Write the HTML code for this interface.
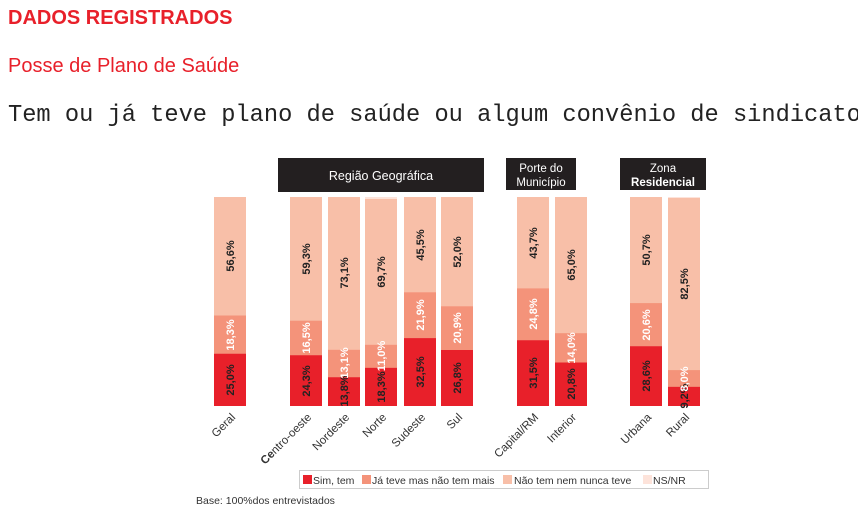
<!DOCTYPE html>
<html><head><meta charset="utf-8"><style>
body{margin:0;background:#fff;width:858px;height:508px;overflow:hidden}
</style></head><body>
<svg width="858" height="508" xmlns="http://www.w3.org/2000/svg" font-family="Liberation Sans, sans-serif">
<text x="8" y="24" font-size="20" font-weight="bold" fill="#e8202a">DADOS REGISTRADOS</text>
<text x="8" y="72" font-size="20" fill="#e8202a">Posse de Plano de Saúde</text>
<text x="8" y="121" font-size="23.7" font-family="Liberation Mono, monospace" fill="#222">Tem ou já teve plano de saúde ou algum convênio de sindicato</text>

<rect x="278" y="158" width="206" height="34" fill="#231f20"/>
<text x="381" y="180" font-size="12.5" fill="#fff" text-anchor="middle">Região Geográfica</text>
<rect x="506" y="158" width="70" height="32" fill="#231f20"/>
<text x="541" y="172" font-size="11.5" fill="#fff" text-anchor="middle">Porte do</text>
<text x="541" y="186" font-size="11.5" fill="#fff" text-anchor="middle">Município</text>
<rect x="620" y="158" width="86" height="32" fill="#231f20"/>
<text x="663" y="172" font-size="11.5" fill="#fff" text-anchor="middle">Zona</text>
<text x="663" y="186" font-size="11.5" font-weight="bold" fill="#fff" text-anchor="middle">Residencial</text>

<g font-size="11" font-weight="bold">
<rect x="214" y="197" width="32" height="209" fill="#f8bfa8"/>
<rect x="214" y="315.5" width="32" height="38.2" fill="#f4937a"/>
<rect x="214" y="353.7" width="32" height="52.3" fill="#e8202a"/>
<text transform="translate(234,380) rotate(-90)" text-anchor="middle" fill="#222">25,0%</text>
<text transform="translate(234,335) rotate(-90)" text-anchor="middle" fill="#fff">18,3%</text>
<text transform="translate(234,256) rotate(-90)" text-anchor="middle" fill="#222">56,6%</text>
<rect x="290" y="197" width="32" height="209" fill="#f8bfa8"/>
<rect x="290" y="320.7" width="32" height="34.5" fill="#f4937a"/>
<rect x="290" y="355.2" width="32" height="50.8" fill="#e8202a"/>
<text transform="translate(310,381) rotate(-90)" text-anchor="middle" fill="#222">24,3%</text>
<text transform="translate(310,338) rotate(-90)" text-anchor="middle" fill="#fff">16,5%</text>
<text transform="translate(310,259) rotate(-90)" text-anchor="middle" fill="#222">59,3%</text>
<rect x="328" y="197" width="32" height="209" fill="#f8bfa8"/>
<rect x="328" y="349.8" width="32" height="27.4" fill="#f4937a"/>
<rect x="328" y="377.2" width="32" height="28.8" fill="#e8202a"/>
<text transform="translate(348,391) rotate(-90)" text-anchor="middle" fill="#222">13,8%</text>
<text transform="translate(348,363) rotate(-90)" text-anchor="middle" fill="#fff">13,1%</text>
<text transform="translate(348,273) rotate(-90)" text-anchor="middle" fill="#222">73,1%</text>
<rect x="365" y="197" width="32" height="209" fill="#fde3da"/>
<rect x="365" y="199" width="32" height="207" fill="#f8bfa8"/>
<rect x="365" y="344.8" width="32" height="23" fill="#f4937a"/>
<rect x="365" y="367.8" width="32" height="38.2" fill="#e8202a"/>
<text transform="translate(385,387) rotate(-90)" text-anchor="middle" fill="#222">18,3%</text>
<text transform="translate(385,356) rotate(-90)" text-anchor="middle" fill="#fff">11,0%</text>
<text transform="translate(385,272) rotate(-90)" text-anchor="middle" fill="#222">69,7%</text>
<rect x="404" y="197" width="32" height="209" fill="#f8bfa8"/>
<rect x="404" y="292.3" width="32" height="45.8" fill="#f4937a"/>
<rect x="404" y="338.1" width="32" height="67.9" fill="#e8202a"/>
<text transform="translate(424,372) rotate(-90)" text-anchor="middle" fill="#222">32,5%</text>
<text transform="translate(424,315) rotate(-90)" text-anchor="middle" fill="#fff">21,9%</text>
<text transform="translate(424,245) rotate(-90)" text-anchor="middle" fill="#222">45,5%</text>
<rect x="441" y="197" width="32" height="209" fill="#f8bfa8"/>
<rect x="441" y="306.3" width="32" height="43.7" fill="#f4937a"/>
<rect x="441" y="350" width="32" height="56" fill="#e8202a"/>
<text transform="translate(461,378) rotate(-90)" text-anchor="middle" fill="#222">26,8%</text>
<text transform="translate(461,328) rotate(-90)" text-anchor="middle" fill="#fff">20,9%</text>
<text transform="translate(461,252) rotate(-90)" text-anchor="middle" fill="#222">52,0%</text>
<rect x="517" y="197" width="32" height="209" fill="#f8bfa8"/>
<rect x="517" y="288.4" width="32" height="51.8" fill="#f4937a"/>
<rect x="517" y="340.2" width="32" height="65.8" fill="#e8202a"/>
<text transform="translate(537,373) rotate(-90)" text-anchor="middle" fill="#222">31,5%</text>
<text transform="translate(537,314) rotate(-90)" text-anchor="middle" fill="#fff">24,8%</text>
<text transform="translate(537,243) rotate(-90)" text-anchor="middle" fill="#222">43,7%</text>
<rect x="555" y="197" width="32" height="209" fill="#f8bfa8"/>
<rect x="555" y="333.2" width="32" height="29.3" fill="#f4937a"/>
<rect x="555" y="362.5" width="32" height="43.5" fill="#e8202a"/>
<text transform="translate(575,384) rotate(-90)" text-anchor="middle" fill="#222">20,8%</text>
<text transform="translate(575,348) rotate(-90)" text-anchor="middle" fill="#fff">14,0%</text>
<text transform="translate(575,265) rotate(-90)" text-anchor="middle" fill="#222">65,0%</text>
<rect x="630" y="197" width="32" height="209" fill="#f8bfa8"/>
<rect x="630" y="303.1" width="32" height="43.1" fill="#f4937a"/>
<rect x="630" y="346.2" width="32" height="59.8" fill="#e8202a"/>
<text transform="translate(650,376) rotate(-90)" text-anchor="middle" fill="#222">28,6%</text>
<text transform="translate(650,325) rotate(-90)" text-anchor="middle" fill="#fff">20,6%</text>
<text transform="translate(650,250) rotate(-90)" text-anchor="middle" fill="#222">50,7%</text>
<rect x="668" y="197" width="32" height="209" fill="#fde3da"/>
<rect x="668" y="198" width="32" height="208" fill="#f8bfa8"/>
<rect x="668" y="370.1" width="32" height="16.7" fill="#f4937a"/>
<rect x="668" y="386.8" width="32" height="19.2" fill="#e8202a"/>
<text transform="translate(688,396) rotate(-90)" text-anchor="middle" fill="#222">9,2%</text>
<text transform="translate(688,379) rotate(-90)" text-anchor="middle" fill="#fff">8,0%</text>
<text transform="translate(688,284) rotate(-90)" text-anchor="middle" fill="#222">82,5%</text>
</g>

<g font-size="11.5" fill="#333" text-anchor="end">
<text transform="translate(236,418) rotate(-45)">Geral</text>
<text transform="translate(312,418) rotate(-45)"><tspan font-weight="bold">Ce</tspan>ntro-oeste</text>
<text transform="translate(350,418) rotate(-45)">Nordeste</text>
<text transform="translate(387,418) rotate(-45)">Norte</text>
<text transform="translate(426,418) rotate(-45)">Sudeste</text>
<text transform="translate(463,418) rotate(-45)">Sul</text>
<text transform="translate(539,418) rotate(-45)">Capital/RM</text>
<text transform="translate(577,418) rotate(-45)">Interior</text>
<text transform="translate(652,418) rotate(-45)">Urbana</text>
<text transform="translate(690,418) rotate(-45)">Rural</text>
</g>

<rect x="299.5" y="470.5" width="409" height="18" fill="#fff" stroke="#ccc"/>
<g font-size="10.5" fill="#333">
<rect x="303" y="475" width="9" height="9" fill="#e8202a"/><text x="313" y="484">Sim, tem</text>
<rect x="362" y="475" width="9" height="9" fill="#f4937a"/><text x="372" y="484">Já teve mas não tem mais</text>
<rect x="503" y="475" width="9" height="9" fill="#f8bfa8"/><text x="514" y="484">Não tem nem nunca teve</text>
<rect x="643" y="475" width="9" height="9" fill="#fde3da"/><text x="653" y="484">NS/NR</text>
</g>
<text x="196" y="504" font-size="10.5" fill="#333">Base: 100%dos entrevistados</text>
</svg>
</body></html>
